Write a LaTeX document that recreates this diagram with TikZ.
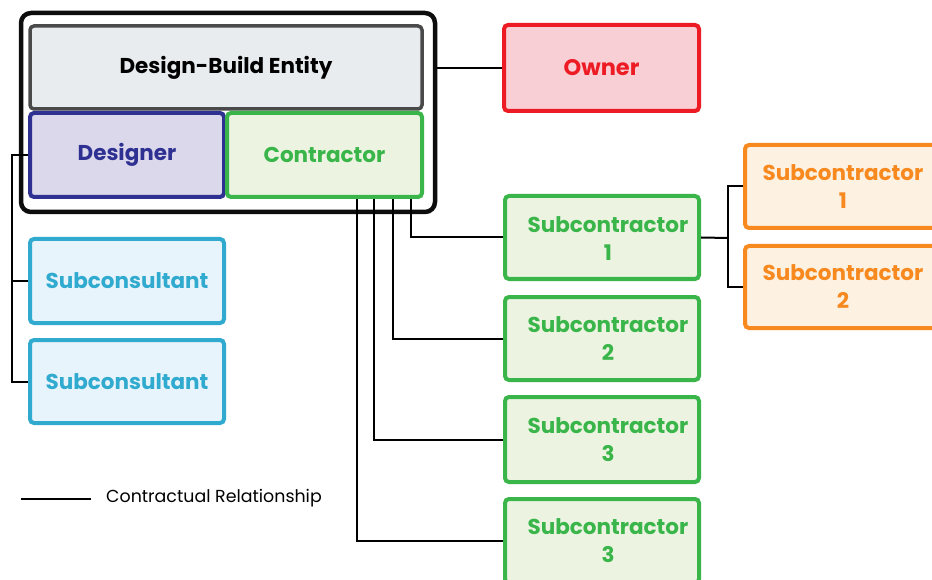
\documentclass[tikz,border=0pt]{standalone}
\usepackage{fontspec}
\setmainfont{Poppins}
\definecolor{dbgray}{HTML}{4A4A4A}
\definecolor{dbfill}{HTML}{E8ECEE}
\definecolor{desc}{HTML}{2E3192}
\definecolor{desf}{HTML}{DCD8EB}
\definecolor{grn}{HTML}{39B54A}
\definecolor{grnf}{HTML}{ECF4E1}
\definecolor{red1}{HTML}{ED1C24}
\definecolor{redf}{HTML}{F8CFD5}
\definecolor{cya}{HTML}{31AAD0}
\definecolor{cyaf}{HTML}{E8F4FB}
\definecolor{org}{HTML}{F7891F}
\definecolor{orgf}{HTML}{FDF1E2}
\newcommand{\boxfont}{\bfseries\fontsize{21.5}{28}\selectfont}
\tikzset{
  box/.style={draw, rounded corners=4pt, line width=4pt, inner sep=0pt, font=\boxfont, align=center},
  dbbox/.style={box, draw=dbgray, fill=dbfill, line width=3.5pt, text=black},
  desbox/.style={box, draw=desc, fill=desf, text=desc},
  conbox/.style={box, draw=grn, fill=grnf, text=grn},
  ownbox/.style={box, draw=red1, fill=redf, text=red1, font=\bfseries\fontsize{22.5}{28}\selectfont},
  scbox/.style={box, draw=cya, fill=cyaf, text=cya},
  gbox/.style={box, draw=grn, fill=grnf, minimum width=194pt},
  obox/.style={box, draw=org, fill=orgf, minimum width=195pt},
  gtext/.style={font=\boxfont, align=center, text=grn, inner sep=0pt},
  otext/.style={font=\boxfont, align=center, text=org, inner sep=0pt},
  conn/.style={draw=black, line width=2pt},
}
\begin{document}
\begin{tikzpicture}[x=1pt,y=-1pt]
\clip (0,0) rectangle (932,580);
\fill[white] (0,0) rectangle (932,580);
% outer entity
\node[draw=black!95, line width=4.5pt, rounded corners=10pt, minimum width=414pt, minimum height=199pt, inner sep=0pt] (ent) at (228,112.5) {};
\node[dbbox, minimum width=392pt, minimum height=83pt] (db) at (226,67.5) {Design-Build Entity};
\node[desbox, minimum width=194pt, minimum height=84pt] (des) at (127,155) {Designer};
\node[conbox, minimum width=195pt, minimum height=84pt] (con) at (324.5,155) {Contractor};
\node[ownbox, minimum width=195pt, minimum height=86pt] (own) at (601.5,68) {Owner};
\node[scbox, minimum width=194pt, minimum height=84pt] (sc1) at (127,281) {Subconsultant};
\node[scbox, minimum width=194pt, minimum height=83pt] (sc2) at (127,381.5) {Subconsultant};
% green subcontractors
\node[gbox, minimum height=83pt] (s1) at (602,237.5) {};
\node[gbox, minimum height=83pt] (s2) at (602,338.5) {};
\node[gbox, minimum height=85pt] (s3) at (602,439.5) {};
\node[gbox, minimum height=84pt] (s4) at (602,541) {};
\node[gtext] (s1t) at (608,239) {Subcontractor\\1};
\node[gtext] (s2t) at (608,339) {Subcontractor\\2};
\node[gtext] (s3t) at (608,440) {Subcontractor\\3};
\node[gtext] (s4t) at (608,541) {Subcontractor\\3};
% orange
\node[obox, minimum height=83pt] (o1) at (842.5,186.5) {};
\node[obox, minimum height=82pt] (o2) at (842.5,287) {};
\node[otext] (o1t) at (843,187) {Subcontractor\\1};
\node[otext] (o2t) at (843,287) {Subcontractor\\2};
% connectors
\draw[conn] (own.west) -- (own.west -| ent.east);
\coordinate (dv) at (12,155);
\draw[conn] (des.west) -- (dv) |- (sc2.west);
\draw[conn] (dv |- sc1.west) -- (sc1.west);
\draw[conn] (s1.west) -| ([xshift=86.5pt]con.south);
\draw[conn] (s2.west) -| ([xshift=68.5pt]con.south);
\draw[conn] (s3.west) -| ([xshift=49.5pt]con.south);
\draw[conn] (s4.west) -| ([xshift=32.5pt]con.south);
\coordinate (ov) at (728,238);
\draw[conn] (s1.east) -- (ov);
\draw[conn] (o1.west) -| (ov) |- (o2.west);
% legend
\coordinate (la) at (21,499);
\coordinate (lb) at (91,499);
\draw[conn, line width=2.5pt] (la) -- (lb);
\node[anchor=west, inner sep=0pt, font=\fontsize{17.4}{22}\selectfont] (lt) at (106,498) {Contractual Relationship};
\end{tikzpicture}
\end{document}
